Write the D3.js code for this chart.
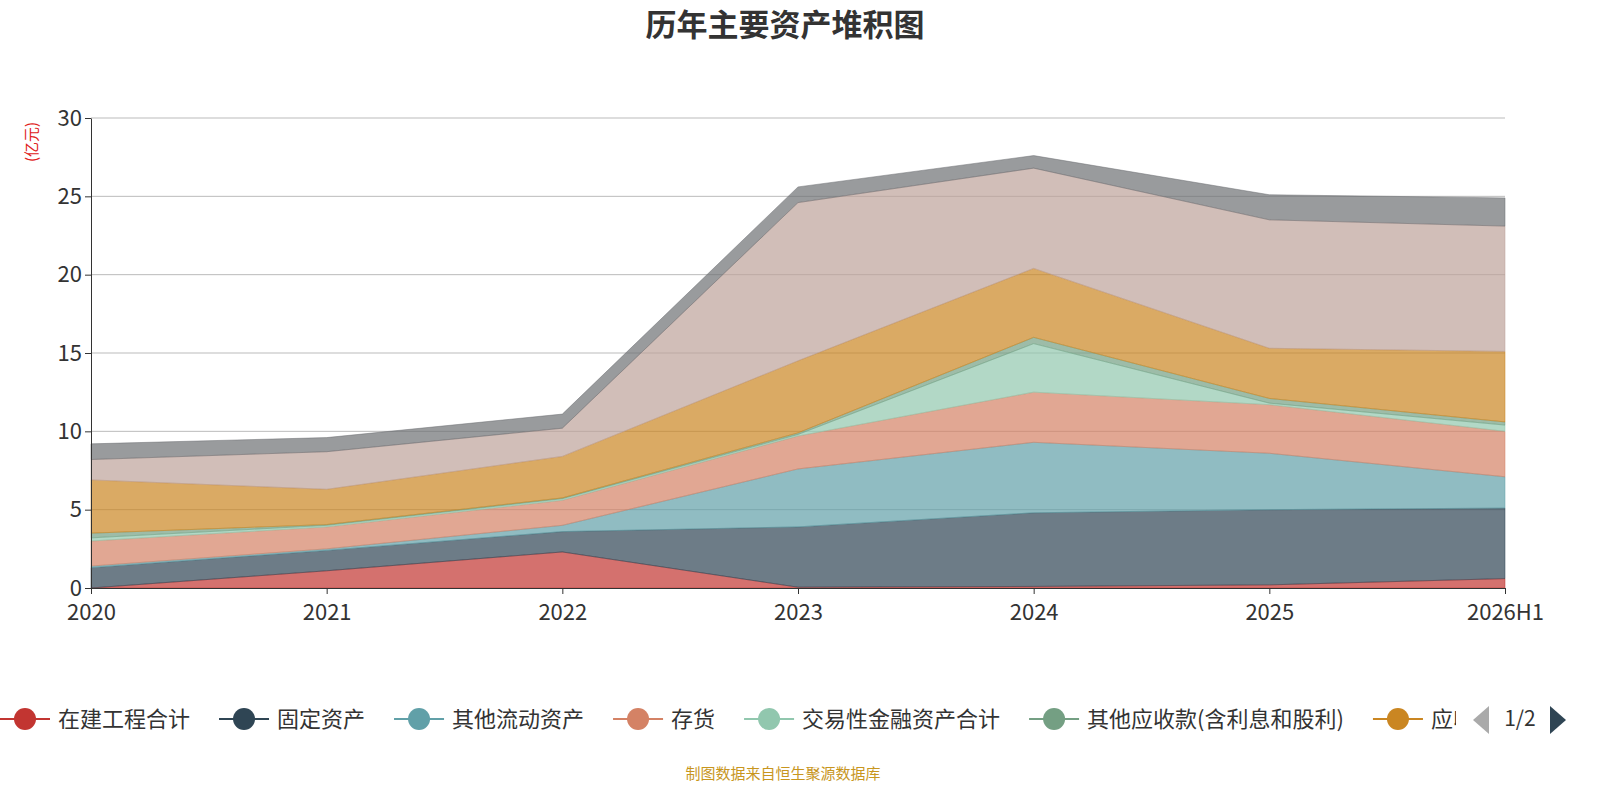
<!DOCTYPE html>
<html lang="zh">
<head>
<meta charset="UTF-8">
<script src="https://d3js.org/d3.v7.min.js"></script>
<style>
  body { margin: 0; font-family: "Noto Sans CJK SC", "Noto Sans", sans-serif; background: #fff; }
  text { font-family: "Noto Sans CJK SC", "Noto Sans", sans-serif; }
</style>
</head>
<body>
<div id="chart"></div>
<script>
const years = ["2020", "2021", "2022", "2023", "2024", "2025", "2026H1"];
const seriesNames = ["在建工程合计", "固定资产", "其他流动资产", "存货", "交易性金融资产合计",
  "其他应收款(含利息和股利)", "应收账款", "货币资金", "其他非流动资产"];
const colors = ["#c23531", "#2f4554", "#61a0a8", "#d48265", "#91c7ae", "#749f83", "#ca8622", "#bda29a", "#6e7074"];
const v0 = [0, 1.1, 2.3, 0.05, 0.1, 0.2, 0.6];
const v1 = [1.3, 1.3, 1.3, 3.85, 4.7, 4.8, 4.5];
const v2 = [0.1, 0.1, 0.4, 3.7, 4.5, 3.6, 2.0];
const v3 = [1.6, 1.4, 1.6, 2.1, 3.2, 3.1, 2.9];
const v4 = [0.2, 0.1, 0.1, 0.1, 3.1, 0.1, 0.4];
const v5 = [0.3, 0.05, 0.05, 0.1, 0.4, 0.3, 0.2];
const v6 = [3.4, 2.25, 2.65, 4.6, 4.4, 3.2, 4.5];
const v7 = [1.3, 2.4, 1.8, 10.1, 6.4, 8.2, 8.0];
const v8 = [1.0, 0.9, 0.9, 1.0, 0.8, 1.6, 1.8];
const values = [v0, v1, v2, v3, v4, v5, v6, v7, v8];
const yTicks = [0, 5, 10, 15, 20, 25, 30];

const W = 1600, H = 800;
const m = { left: 91, right: 95, top: 118, bottom: 212 };
const svg = d3.select("#chart").append("svg").attr("width", W).attr("height", H);

const x = d3.scalePoint().domain(years).range([m.left, W - m.right]);
const y = d3.scaleLinear().domain([0, 30]).range([H - m.bottom, m.top]);

const table = years.map((yr, i) => {
  const r = { year: yr };
  seriesNames.forEach((n, k) => r[n] = values[k][i]);
  return r;
});
const stacked = d3.stack().keys(seriesNames)(table);

svg.append("g").selectAll("line").data(yTicks.slice(1)).join("line")
  .attr("x1", m.left).attr("x2", W - m.right)
  .attr("y1", d => y(d)).attr("y2", d => y(d))
  .attr("stroke", "#bbb");

const area = d3.area().x(d => x(d.data.year)).y0(d => y(d[0])).y1(d => y(d[1]));
svg.append("g").selectAll("path").data(stacked).join("path")
  .attr("d", area).attr("fill", (d, i) => colors[i]).attr("fill-opacity", 0.7)
  .attr("stroke", (d, i) => colors[i]).attr("stroke-opacity", 0.5);

const xa = svg.append("g").attr("transform", `translate(0,${H - m.bottom})`)
  .call(d3.axisBottom(x).tickSize(6).tickSizeOuter(0));
xa.selectAll("text").attr("font-size", 22).attr("fill", "#333").attr("dy", "1.05em");
xa.selectAll("line,path").attr("stroke", "#333");

const ya = svg.append("g").attr("transform", `translate(${m.left},0)`)
  .call(d3.axisLeft(y).tickValues(yTicks).tickSize(6).tickSizeOuter(0));
ya.selectAll("text").attr("font-size", 22).attr("fill", "#333");
ya.selectAll("line,path").attr("stroke", "#333");

svg.append("text").attr("transform", "translate(37,142) rotate(-90)")
  .attr("text-anchor", "middle").attr("font-size", 15).attr("fill", "#e02020").text("(亿元)");

svg.append("text").attr("x", W / 2 - 15).attr("y", 36).attr("text-anchor", "middle")
  .attr("font-size", 31).attr("font-weight", "bold").attr("fill", "#333").text("历年主要资产堆积图");

// legend, page 1
svg.append("clipPath").attr("id", "lc").append("rect")
  .attr("x", 0).attr("y", 690).attr("width", 1456).attr("height", 60);
const lg = svg.append("g").attr("clip-path", "url(#lc)");
let lx = 0;
seriesNames.slice(0, 7).forEach((n, i) => {
  const g = lg.append("g").attr("transform", `translate(${lx},719)`);
  g.append("line").attr("x1", 0).attr("x2", 50).attr("stroke", colors[i]).attr("stroke-width", 2);
  g.append("circle").attr("cx", 25).attr("r", 11).attr("fill", colors[i]);
  const t = g.append("text").attr("x", 58).attr("dy", "0.35em").attr("font-size", 22).attr("fill", "#333").text(n);
  lx += 58 + t.node().getComputedTextLength() + 29;
});
svg.append("path").attr("d", "M1489,706 L1489,734 L1473,720 Z").attr("fill", "#aaa");
svg.append("text").attr("x", 1520).attr("y", 719).attr("dy", "0.35em").attr("text-anchor", "middle")
  .attr("font-size", 21).attr("fill", "#333").text("1/2");
svg.append("path").attr("d", "M1550,706 L1550,734 L1566,720 Z").attr("fill", "#2f4554");

svg.append("text").attr("x", 783).attr("y", 779).attr("text-anchor", "middle")
  .attr("font-size", 15).attr("fill", "#c8961e").text("制图数据来自恒生聚源数据库");
</script>
</body>
</html>
